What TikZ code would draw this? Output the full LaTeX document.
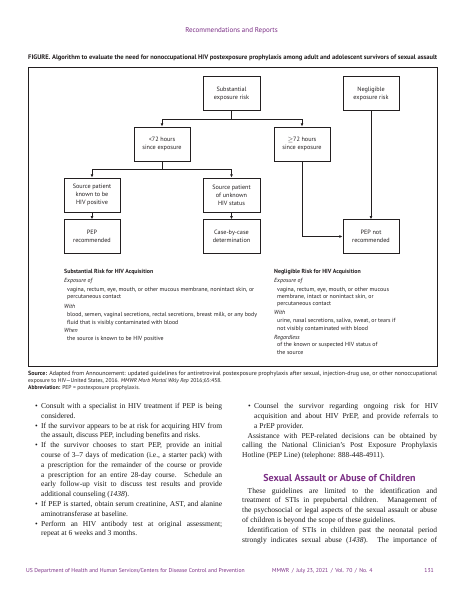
\documentclass[tikz,border=0pt]{standalone}
\usepackage{fontspec}
\setmainfont{Liberation Serif}
\newfontfamily\fs{PT Sans}
\usetikzlibrary{arrows.meta}
\definecolor{mmwr}{HTML}{7B2E85}
\definecolor{ink}{HTML}{231F20}
\newlength\tw
\newcommand\J[2]{\hbox to #1{\spaceskip=.25em plus 2em minus .13em\relax #2}}
\newcommand\BJ[1]{\hbox{\hbox to 6pt{•\hfil}\J{\tw}{#1}}}
\newcommand\CJ[1]{\hbox{\hskip6pt\J{\tw}{#1}}}
\newcommand\CL[1]{\hbox{\hskip6pt #1}}
\newcommand\PJ[1]{\hbox{\J{195pt}{#1}}}
\newcommand\PIJ[1]{\hbox{\hskip5.5pt\J{189.5pt}{#1}}}
\newcommand\PIL[1]{\hbox{\hskip5.5pt #1}}
\newcommand\PL[1]{\hbox{#1}}
\tikzset{
  box/.style={draw=ink, line width=1pt, minimum width=56pt, minimum height=33.5pt,
    inner sep=0pt, align=center, text=ink, font=\fs\fontsize{6.2}{8}\selectfont},
  arr/.style={draw=ink, line width=0.9pt, -{Latex[length=3.2pt,width=2.9pt]}},
  keyt/.style={font=\fs\fontsize{5.9}{7}\selectfont, anchor=base west, inner sep=0pt, text=ink},
  body/.style={font=\fontsize{7.5}{9.8}\selectfont, anchor=base west, inner sep=0pt, text=black!90},
  foot/.style={font=\fs\fontsize{5.7}{7}\selectfont, inner sep=0pt, text=mmwr},
}
\begin{document}
\begin{tikzpicture}[x=1pt,y=-1pt]
\useasboundingbox[fill=white] (0,0) rectangle (463,599);
% header and title
\node[foot, font=\fs\fontsize{7}{8}\selectfont, anchor=base] (hdr) at (231.5,33) {Recommendations and Reports};
\node[anchor=base west, inner sep=0pt, text=ink, font=\fs\bfseries\fontsize{6.4}{7}\selectfont] (title) at (28,60)
  {\resizebox{409pt}{!}{FIGURE. Algorithm to evaluate the need for nonoccupational HIV postexposure prophylaxis among adult and adolescent survivors of sexual assault}};
% frame
\draw[ink, line width=1pt] (28,68) rectangle (437,366.5);
% boxes
\node[box, minimum width=57pt] (subst) at (231.5,93.5) {Substantial\\exposure risk};
\node[box] (neg) at (371,93.5) {Negligible\\exposure risk};
\node[box, minimum height=34pt] (lt72) at (162,144) {<72 hours\\since exposure};
\node[box, minimum height=34pt] (ge72) at (302,144) {$\geq$\kern-.3pt72 hours\\since exposure};
\node[box, minimum height=34pt] (known) at (92,195) {Source patient\\known to be\\HIV positive};
\node[box, minimum height=34pt, minimum width=57pt] (unknown) at (231.5,195) {Source patient\\of unknown\\HIV status};
\node[box] (pep) at (92,236.5) {PEP\\recommended};
\node[box, minimum width=57pt] (case) at (231.5,236.5) {Case-by-case\\determination};
\node[box] (pepnot) at (371,236.5) {PEP not\\recommended};
% connectors
\coordinate (j1) at (231.5,119);
\coordinate (j2) at (162,169);
\draw[arr] (subst.south) -- (j1) -| (lt72.north);
\draw[arr] (j1) -| (ge72.north);
\draw[arr] (lt72.south) -- (j2) -| (known.north);
\draw[arr] (j2) -| (unknown.north);
\draw[arr] (known) -- (pep);
\draw[arr] (unknown) -- (case);
\draw[arr] (ge72.south) |- (pepnot.west);
\draw[arr] (neg) -- (pepnot);
% key left
\node[keyt] (kl0) at (64,273.5) {\bfseries Substantial Risk for HIV Acquisition};
\node[keyt] (kl1) at (64,282.5) {\itshape Exposure of};
\node[keyt] (kl2) at (67,291.5) {vagina, rectum, eye, mouth, or other mucous membrane, nonintact skin, or};
\node[keyt] (kl3) at (67,298.8) {percutaneous contact};
\node[keyt] (kl4) at (64,308.2) {\itshape With};
\node[keyt] (kl5) at (67,316.5) {blood, semen, vaginal secretions, rectal secretions, breast milk, or any body};
\node[keyt] (kl6) at (67,324.2) {fluid that is visibly contaminated with blood};
\node[keyt] (kl7) at (64,332.5) {\itshape When};
\node[keyt] (kl8) at (67,340.5) {the source is known to be HIV positive};
% key right
\node[keyt] (kr0) at (274,273.5) {\bfseries Negligible Risk for HIV Acquisition};
\node[keyt] (kr1) at (274,282.2) {\itshape Exposure of};
\node[keyt] (kr2) at (277,291.5) {vagina, rectum, eye, mouth, or other mucous};
\node[keyt] (kr3) at (277,298.8) {membrane, intact or nonintact skin, or};
\node[keyt] (kr4) at (277,305.8) {percutaneous contact};
\node[keyt] (kr5) at (274,314.8) {\itshape With};
\node[keyt] (kr6) at (277,322.5) {urine, nasal secretions, saliva, sweat, or tears if};
\node[keyt] (kr7) at (277,330.2) {not visibly contaminated with blood};
\node[keyt] (kr8) at (274,339.2) {\itshape Regardless};
\node[keyt] (kr9) at (277,346.8) {of the known or suspected HIV status of};
\node[keyt] (kr10) at (277,354.8) {the source};
% source
\node[keyt, font=\fs\fontsize{5.6}{7}\selectfont] (src1) at (28,375) {\resizebox{409pt}{!}{\textbf{Source:} Adapted from Announcement: updated guidelines for antiretroviral postexposure prophylaxis after sexual, injection-drug use, or other nonoccupational}};
\node[keyt, font=\fs\fontsize{5.6}{7}\selectfont] (src2) at (28,382) {exposure to HIV—United States, 2016. \textit{MMWR Morb Mortal Wkly Rep} 2016;65:458.};
\node[keyt, font=\fs\fontsize{5.6}{7}\selectfont] (src3) at (28,389) {\textbf{Abbreviation:} PEP = postexposure prophylaxis.};
% left column
\node[body] (lcol) at (35,408.5) {\setlength\tw{181pt}\vtop{\baselineskip=9.8pt
\BJ{Consult with a specialist in HIV treatment if PEP is being}
\CL{considered.}
\BJ{If the survivor appears to be at risk for acquiring HIV from}
\CL{the assault, discuss PEP, including benefits and risks.}
\BJ{If the survivor chooses to start PEP, provide an initial}
\CJ{course of 3--7 days of medication (i.e., a starter pack) with}
\CJ{a prescription for the remainder of the course or provide}
\CJ{a prescription for an entire 28-day course. Schedule an}
\CJ{early follow-up visit to discuss test results and provide}
\CL{additional counseling (\textit{1438}).}
\BJ{If PEP is started, obtain serum creatinine, AST, and alanine}
\CL{aminotransferase at baseline.}
\BJ{Perform an HIV antibody test at original assessment;}
\CL{repeat at 6 weeks and 3 months.}
}};
% right column
\node[body] (rcol) at (248,408.5) {\setlength\tw{184pt}\vtop{\baselineskip=9.8pt
\BJ{Counsel the survivor regarding ongoing risk for HIV}
\CJ{acquisition and about HIV PrEP, and provide referrals to}
\CL{a PrEP provider.}
}};
\node[body] (rcol2) at (242,438) {\vtop{\baselineskip=9.8pt
\PIJ{Assistance with PEP-related decisions can be obtained by}
\PJ{calling the National Clinician's Post Exposure Prophylaxis}
\PL{Hotline (PEP Line) (telephone: 888-448-4911).}
}};
\node[anchor=base, inner sep=0pt, text=mmwr, font=\fs\bfseries\fontsize{10}{12}\selectfont] (head) at (339.5,481) {Sexual Assault or Abuse of Children};
\node[body] (rcol3) at (242,493) {\vtop{\baselineskip=9.8pt
\PIJ{These guidelines are limited to the identification and}
\PJ{treatment of STIs in prepubertal children. Management of}
\PJ{the psychosocial or legal aspects of the sexual assault or abuse}
\PL{of children is beyond the scope of these guidelines.}
\PIJ{Identification of STIs in children past the neonatal period}
\PJ{strongly indicates sexual abuse (\textit{1438}). The importance of}
}};
% footer
\node[foot, anchor=base west] (f1) at (26,572) {US Department of Health and Human Services/Centers for Disease Control and Prevention};
\node[foot, anchor=base west] (f2) at (272,572) {MMWR \,/\, July 23, 2021 \,/\, Vol. 70 \,/\, No. 4};
\node[foot, anchor=base east] (f3) at (434,572) {131};
\end{tikzpicture}
\end{document}
